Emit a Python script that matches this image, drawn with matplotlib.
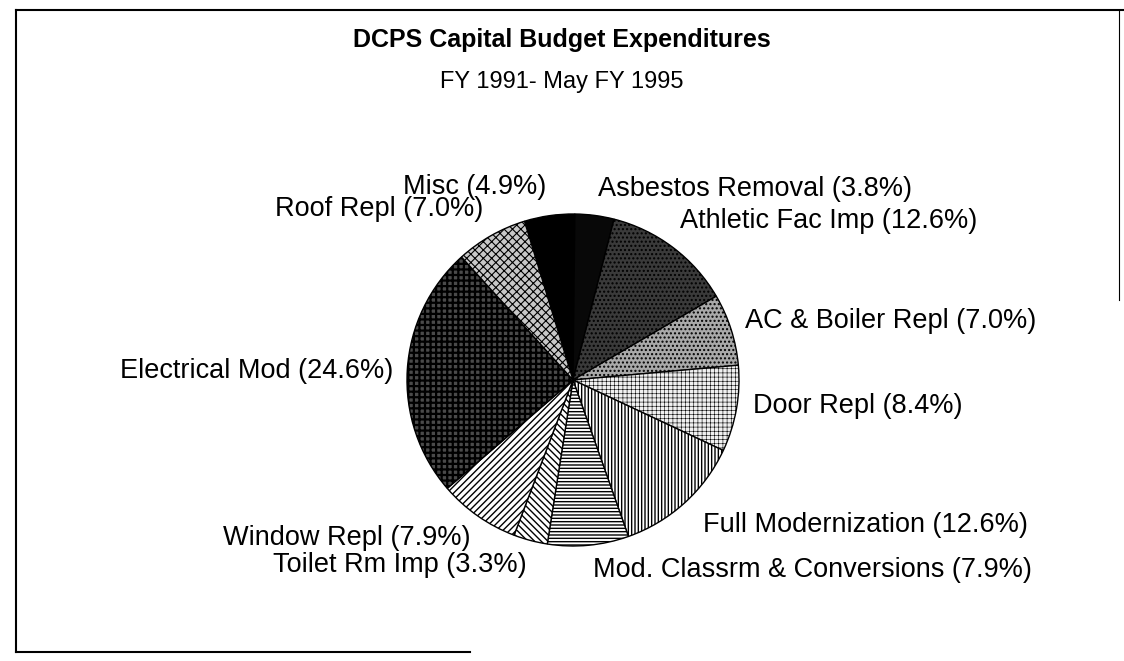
import matplotlib
matplotlib.use("Agg")
import matplotlib.pyplot as plt
from matplotlib.lines import Line2D

# data (percent of capital budget), clockwise from top
categories = ["Misc", "Asbestos Removal", "Athletic Fac Imp", "AC & Boiler Repl",
              "Door Repl", "Full Modernization", "Mod. Classrm & Conversions",
              "Toilet Rm Imp", "Window Repl", "Electrical Mod", "Roof Repl"]
shares = [4.9, 3.8, 12.6, 7.0, 8.4, 12.6, 7.9, 3.3, 7.9, 24.6, 7.0]

title = "DCPS Capital Budget Expenditures"
subtitle = "FY 1991- May FY 1995"

# slice fills (scanned b/w patterns)
faces = ["black", "#080808", "#3a3a3a", "#a9a9a9", "#f0f0f0", "white",
         "white", "white", "white", "#4a4a4a", "#c8c8c8"]
hatches = [None, None, "....", "....", "++++", "|||||", "-----",
           "\\\\\\\\\\", "/////", "+++", "xxxx"]
hatch_lw = [1.0, 1.0, 1.0, 1.0, 0.4, 1.0, 1.0, 1.0, 1.0, 1.6, 0.8]

# label anchors in pie-radius units: (x, y, ha)
label_pos = [(-0.16, 1.165, "right"), (0.15, 1.15, "left"), (0.645, 0.96, "left"),
             (1.036, 0.355, "left"), (1.084, -0.157, "left"), (0.783, -0.873, "left"),
             (0.12, -1.145, "left"), (-0.277, -1.114, "right"), (-0.62, -0.952, "right"),
             (-1.084, 0.054, "right"), (-0.542, 1.03, "right")]

plt.rcParams['font.family'] = ['Liberation Sans', 'DejaVu Sans']
plt.rcParams['hatch.linewidth'] = 1.0
plt.rcParams['hatch.color'] = 'black'

W, H = 1124, 661
fig = plt.figure(figsize=(W / 100, H / 100), dpi=100)

# pie axes: centre (573, 380) px, radius 166 px
cx, cy, r = 573, 380, 166
ax = fig.add_axes([(cx - r) / W, 1 - (cy + r) / H, 2 * r / W, 2 * r / H])
wedges, _ = ax.pie(shares, startangle=107, counterclock=False, colors=faces,
                   wedgeprops=dict(edgecolor="black", linewidth=1.0))
for w, h, lw in zip(wedges, hatches, hatch_lw):
    if h:
        w.set_hatch(h)
        if hasattr(w, "set_hatch_linewidth"):
            w.set_hatch_linewidth(lw)
ax.set_xlim(-1, 1)
ax.set_ylim(-1, 1)
ax.set_aspect("equal")
ax.axis("off")

for name, val, (lx, ly, ha) in zip(categories, shares, label_pos):
    ax.text(lx, ly, f"{name} ({val:.1f}%)", ha=ha, va="center",
            fontsize=19.5, clip_on=False)

fig.text(0.5, 1 - 40 / H, title, ha="center", va="center",
         fontsize=18, fontweight="bold")
fig.text(0.5, 1 - 82 / H, subtitle, ha="center", va="center", fontsize=17)

# scanned frame (partly faded)
def frame_line(x0, y0, x1, y1, lw=1.5):
    fig.add_artist(Line2D([x0 / W, x1 / W], [1 - y0 / H, 1 - y1 / H],
                          transform=fig.transFigure, color="black", linewidth=lw))

frame_line(16, 10, 1124, 10)
frame_line(16, 10, 16, 652)
frame_line(16, 652, 470, 652)
frame_line(1119, 10, 1119, 300, lw=0.8)

fig.savefig("out.png", dpi=100, facecolor="white")
